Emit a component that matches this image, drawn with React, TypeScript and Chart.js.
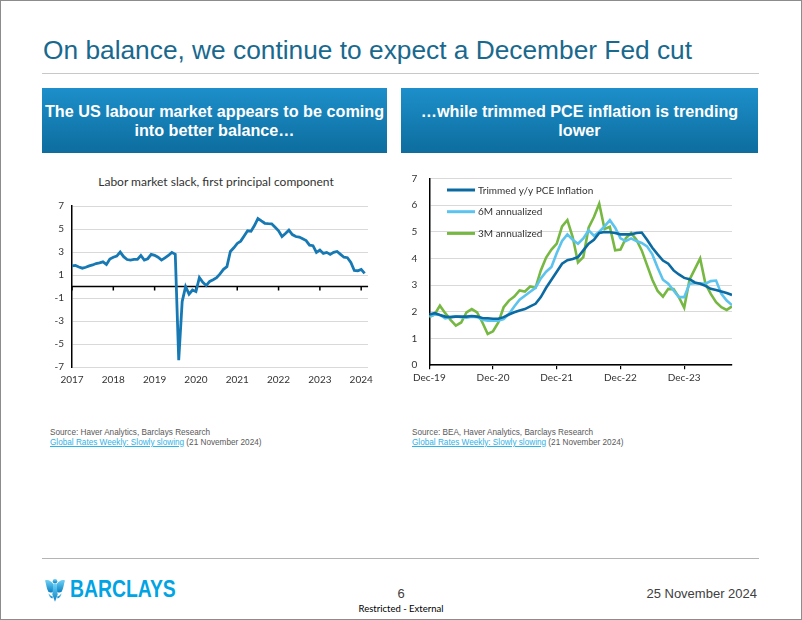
import React, { useEffect, useRef } from 'react';
import { Chart, registerables } from 'chart.js';

Chart.register(...registerables);

// ---------- Data ----------
const SLACK_TITLE = 'Labor market slack, first principal component';
const SLACK_YEARS = ['2017', '2018', '2019', '2020', '2021', '2022', '2023', '2024'];
const SLACK_VALUES = [
  1.79, 1.84, 1.7, 1.6, 1.68, 1.8, 1.88, 2.0, 2.06, 2.15,
  1.93, 2.4, 2.55, 2.65, 3.0, 2.6, 2.35, 2.3, 2.36, 2.36,
  2.7, 2.3, 2.42, 2.8, 2.72, 2.55, 2.3, 2.5, 2.7, 2.97,
  2.8, -6.4, -1.3, 0.0, -0.66, -0.3, -0.43, 0.78, 0.37, 0.1,
  0.45, 0.6, 0.78, 1.1, 1.5, 1.73, 3.05, 3.37, 3.75, 3.95,
  4.4, 4.85, 4.81, 5.3, 5.91, 5.7, 5.5, 5.47, 5.45, 5.15,
  4.85, 4.35, 4.61, 4.9, 4.52, 4.35, 4.3, 4.15, 4.0, 3.6,
  3.55, 2.97, 3.17, 2.88, 2.97, 2.8, 2.97, 3.05, 2.8, 2.55,
  2.51, 2.1, 1.4, 1.38, 1.5, 1.15,
];

const PCE_TICK_LABELS = ['Dec-19', 'Dec-20', 'Dec-21', 'Dec-22', 'Dec-23'];
const PCE_SERIES_NAMES = ['Trimmed y/y PCE Inflation', '6M annualized', '3M annualized'];
const TRIMMED_YY = [
  1.9, 1.95, 1.88, 1.82, 1.8, 1.82, 1.82, 1.82, 1.84, 1.82,
  1.77, 1.76, 1.74, 1.74, 1.8, 1.9, 1.98, 2.05, 2.1, 2.2,
  2.3, 2.55, 2.9, 3.2, 3.5, 3.8, 3.93, 3.98, 4.05, 4.3,
  4.55, 4.7, 4.95, 4.99, 4.98, 4.95, 4.9, 4.9, 4.9, 4.95,
  4.97, 4.7, 4.4, 4.15, 3.92, 3.8, 3.55, 3.4, 3.27, 3.22,
  3.1, 3.05, 2.97, 2.86, 2.82, 2.76, 2.7, 2.63,
];
const ANNUALIZED_6M = [
  1.82, 1.9, 1.88, 1.75, 1.8, 1.83, 1.8, 1.78, 1.82, 1.8,
  1.7, 1.67, 1.67, 1.67, 1.73, 1.92, 2.2, 2.45, 2.6, 2.75,
  2.9, 3.25, 3.5, 3.68, 4.2, 4.65, 4.9, 4.7, 4.55, 4.75,
  5.05, 4.85, 5.0, 5.2, 5.43, 5.15, 4.75, 4.65, 4.75, 4.65,
  4.58, 4.45, 4.15, 3.65, 3.2, 3.05, 2.8, 2.55, 2.55, 3.05,
  3.07, 3.07, 3.05, 3.15, 3.17, 2.67, 2.42, 2.25,
];
const ANNUALIZED_3M = [
  1.8, 1.9, 2.23, 1.95, 1.7, 1.48, 1.6, 1.98, 2.1, 1.98,
  1.6, 1.17, 1.27, 1.6, 2.17, 2.42, 2.57, 2.8, 2.76, 2.95,
  2.9, 3.55, 4.03, 4.33, 4.55, 5.2, 5.43, 4.8, 3.85, 4.05,
  5.15, 5.55, 6.05, 5.1, 5.18, 4.3, 4.33, 4.75, 4.95, 4.7,
  4.3, 3.75, 3.2, 2.78, 2.57, 2.86, 2.85, 2.55, 2.15, 3.2,
  3.6, 4.0, 3.05, 2.67, 2.36, 2.17, 2.07, 2.2,
];

const MONTHS_PER_TICK = 12;

// ---------- Styles ----------
const CHART_FONT = 'Lato, "Open Sans", sans-serif';
const SLIDE_FONT = '"Liberation Sans", Arial, sans-serif';
const TEXT_COLOR = '#333333';
const GRID_COLOR = '#d9d9d9';

const toPoints = (arr: number[]) => arr.map((v, i) => ({ x: i, y: v }));

// fixed-width y axis with no automatic label-overflow padding
const fixYAxis = (width: number) => (s: any) => {
  s.width = width;
  s.paddingTop = 0;
  s.paddingBottom = 0;
};

// zero line with year tick marks (left chart)
const zeroAxisPlugin = {
  id: 'zeroAxis',
  beforeDatasetsDraw(chart: any) {
    const xs = chart.scales.x;
    const ys = chart.scales.y;
    const ctx = chart.ctx;
    const y0 = ys.getPixelForValue(0);
    ctx.save();
    ctx.strokeStyle = '#000';
    ctx.lineWidth = 1.5;
    ctx.beginPath();
    ctx.moveTo(chart.chartArea.left, y0);
    ctx.lineTo(chart.chartArea.right, y0);
    xs.ticks.forEach((t: any) => {
      const px = xs.getPixelForValue(t.value);
      ctx.moveTo(px, y0);
      ctx.lineTo(px, y0 + 4);
    });
    ctx.stroke();
    ctx.restore();
  },
};

// legend drawn inside the plot area (right chart)
const insideLegendPlugin = {
  id: 'insideLegend',
  afterDatasetsDraw(chart: any, _args: any, opts: any) {
    const { ctx, chartArea } = chart;
    ctx.save();
    ctx.font = opts.font;
    ctx.textBaseline = 'middle';
    ctx.textAlign = 'left';
    chart.data.datasets.forEach((ds: any, i: number) => {
      const y = chartArea.top + opts.offsetY + i * opts.rowGap;
      const x0 = chartArea.left + opts.offsetX;
      ctx.strokeStyle = ds.borderColor;
      ctx.lineWidth = opts.lineWidth;
      ctx.beginPath();
      ctx.moveTo(x0, y);
      ctx.lineTo(x0 + opts.sampleWidth, y);
      ctx.stroke();
      ctx.fillStyle = opts.color;
      ctx.fillText(ds.label, x0 + opts.sampleWidth + opts.gap, y + 0.5);
    });
    ctx.restore();
  },
};

function Eagle() {
  return (
    <svg width="20" height="25" viewBox="0 0 30 37" style={{ position: 'absolute', left: 44, top: 576 }}>
      <defs>
        <linearGradient id="eg" x1="0" y1="0" x2="0" y2="1">
          <stop offset="0" stopColor="#6fd3f6" />
          <stop offset="1" stopColor="#0a7fc2" />
        </linearGradient>
      </defs>
      <path d="M13 11 C9 5 4 3 0 5 C2 10 2 17 5 22 C8 24 11 23 13 21 Z" fill="url(#eg)" />
      <path d="M17 11 C21 5 26 3 30 5 C28 10 28 17 25 22 C22 24 19 23 17 21 Z" fill="url(#eg)" />
      <circle cx="15" cy="6" r="3.4" fill="url(#eg)" />
      <path d="M12.5 10 L17.5 10 L19 26 L15 37 L11 26 Z" fill="url(#eg)" />
      <path d="M5 24 C8 27 10 29 12 29 L11 32 C8 31 6 28 5 24 Z" fill="url(#eg)" />
      <path d="M25 24 C22 27 20 29 18 29 L19 32 C22 31 24 28 25 24 Z" fill="url(#eg)" />
    </svg>
  );
}

export default function App() {
  const leftRef = useRef<HTMLCanvasElement>(null);
  const rightRef = useRef<HTMLCanvasElement>(null);

  useEffect(() => {
    const tickFont = { family: CHART_FONT, size: 10 };

    const left = new Chart(leftRef.current as HTMLCanvasElement, {
      type: 'line',
      data: {
        datasets: [
          {
            label: 'Labor market slack',
            data: toPoints(SLACK_VALUES),
            borderColor: '#1779b3',
            backgroundColor: '#1779b3',
            borderWidth: 2.8,
            pointRadius: 0,
            tension: 0,
          },
        ],
      },
      options: {
        responsive: false,
        animation: false,
        layout: { padding: { left: 0, right: 9, top: 41, bottom: 4.8 } },
        plugins: {
          legend: { display: false },
          tooltip: { enabled: false },
        },
        scales: {
          x: {
            type: 'linear',
            min: 0,
            max: 86,
            grid: { display: false, drawTicks: false },
            border: { display: false },
            ticks: {
              stepSize: MONTHS_PER_TICK,
              includeBounds: false,
              autoSkip: false,
              maxRotation: 0,
              padding: 7,
              color: TEXT_COLOR,
              font: tickFont,
              callback: (v: any) => SLACK_YEARS[Math.round(Number(v) / MONTHS_PER_TICK)] ?? '',
            },
          },
          y: {
            min: -7,
            max: 7,
            ticks: { stepSize: 2, padding: 8, color: TEXT_COLOR, font: tickFont },
            grid: { color: GRID_COLOR, drawTicks: false, lineWidth: 1 },
            border: { display: true, color: '#000', width: 1.5 },
            afterFit: fixYAxis(32),
          },
        },
      } as any,
      plugins: [zeroAxisPlugin],
    });

    const colors = ['#0b6aa2', '#5cc3ee', '#76b842'];
    const series = [TRIMMED_YY, ANNUALIZED_6M, ANNUALIZED_3M];
    const right = new Chart(rightRef.current as HTMLCanvasElement, {
      type: 'line',
      data: {
        datasets: series.map((s, i) => ({
          label: PCE_SERIES_NAMES[i],
          data: toPoints(s),
          borderColor: colors[i],
          backgroundColor: colors[i],
          borderWidth: 2.6,
          pointRadius: 0,
          tension: 0,
        })),
      },
      options: {
        responsive: false,
        animation: false,
        layout: { padding: { left: 0, right: 8, top: 13.3, bottom: 1.8 } },
        plugins: {
          legend: { display: false },
          tooltip: { enabled: false },
          insideLegend: {
            offsetX: 17.7,
            offsetY: 11.7,
            rowGap: 21.7,
            sampleWidth: 28,
            gap: 3,
            lineWidth: 3,
            color: TEXT_COLOR,
            font: `10px ${CHART_FONT}`,
          },
        },
        scales: {
          x: {
            type: 'linear',
            min: 0,
            max: 57,
            grid: { display: true, drawOnChartArea: false, drawTicks: true, tickLength: 4, color: '#000', lineWidth: 1.2 },
            border: { display: true, color: '#000', width: 1.5 },
            ticks: {
              stepSize: MONTHS_PER_TICK,
              includeBounds: false,
              autoSkip: false,
              maxRotation: 0,
              padding: 3,
              color: TEXT_COLOR,
              font: tickFont,
              callback: (v: any) => PCE_TICK_LABELS[Math.round(Number(v) / MONTHS_PER_TICK)] ?? '',
            },
          },
          y: {
            min: 0,
            max: 7,
            ticks: { stepSize: 1, padding: 12, color: TEXT_COLOR, font: tickFont },
            grid: { color: GRID_COLOR, drawTicks: false, lineWidth: 1 },
            border: { display: true, color: '#000', width: 1.5 },
            afterFit: fixYAxis(34.3),
          },
        },
      } as any,
      plugins: [insideLegendPlugin],
    });

    return () => {
      left.destroy();
      right.destroy();
    };
  }, []);

  const boxStyle: React.CSSProperties = {
    position: 'absolute',
    top: 87,
    height: 65,
    background: 'linear-gradient(#1d8fca, #0d6d9e)',
    color: '#fff',
    fontWeight: 'bold',
    fontSize: 16.2,
    lineHeight: '19px',
    display: 'flex',
    alignItems: 'center',
    justifyContent: 'center',
    textAlign: 'center',
    whiteSpace: 'nowrap',
  };
  const srcStyle: React.CSSProperties = {
    position: 'absolute',
    top: 427.3,
    fontSize: 8.2,
    lineHeight: '9.3px',
    color: '#595959',
    whiteSpace: 'nowrap',
  };
  const linkStyle: React.CSSProperties = { color: '#2fb2e8', textDecoration: 'underline' };

  return (
    <div
      style={{
        position: 'fixed',
        left: 0,
        top: 0,
        width: 802,
        height: 620,
        boxSizing: 'border-box',
        border: '1px solid #8c8c8c',
        background: '#fff',
        fontFamily: SLIDE_FONT,
        overflow: 'hidden',
      }}
    >
      <div style={{ position: 'absolute', left: 42, top: 34, fontSize: 26.3, lineHeight: '30px', color: '#19698e', whiteSpace: 'nowrap' }}>
        On balance, we continue to expect a December Fed cut
      </div>
      <div style={{ position: 'absolute', left: 41, top: 72, width: 717, height: 1, background: '#c8c8c8' }} />

      <div style={{ ...boxStyle, left: 41, width: 345 }}>
        <div>
          The US labour market appears to be coming
          <br />
          into better balance{'\u2026'}
        </div>
      </div>
      <div style={{ ...boxStyle, left: 400, width: 357 }}>
        <div>
          {'\u2026'}while trimmed PCE inflation is trending
          <br />
          lower
        </div>
      </div>

      <div
        style={{
          position: 'absolute',
          left: 15,
          width: 400,
          top: 173.7,
          textAlign: 'center',
          fontFamily: CHART_FONT,
          fontSize: 12,
          lineHeight: '14px',
          color: TEXT_COLOR,
          whiteSpace: 'nowrap',
        }}
      >
        {SLACK_TITLE}
      </div>
      <canvas ref={leftRef} width={340} height={233} style={{ position: 'absolute', left: 39, top: 164 }} />
      <canvas ref={rightRef} width={345} height={224} style={{ position: 'absolute', left: 394, top: 164 }} />

      <div style={{ ...srcStyle, left: 49 }}>
        Source: Haver Analytics, Barclays Research
        <br />
        <span style={linkStyle}>Global Rates Weekly: Slowly slowing</span> (21 November 2024)
      </div>
      <div style={{ ...srcStyle, left: 411 }}>
        Source: BEA, Haver Analytics, Barclays Research
        <br />
        <span style={linkStyle}>Global Rates Weekly: Slowly slowing</span> (21 November 2024)
      </div>

      <div style={{ position: 'absolute', left: 41, top: 557, width: 717, height: 1, background: '#b4b4b4' }} />

      <Eagle />
      <div
        style={{
          position: 'absolute',
          left: 69,
          top: 575.6,
          fontSize: 24.5,
          lineHeight: '24.5px',
          fontWeight: 'bold',
          color: '#00a3e3',
          transform: 'scaleX(0.79)',
          transformOrigin: 'left center',
          whiteSpace: 'nowrap',
        }}
      >
        BARCLAYS
      </div>

      <div style={{ position: 'absolute', left: 380, width: 40, top: 585, textAlign: 'center', fontSize: 13, lineHeight: '16px', color: '#404040' }}>
        6
      </div>
      <div
        style={{
          position: 'absolute',
          left: 340,
          width: 120,
          top: 602,
          textAlign: 'center',
          fontSize: 9.5,
          lineHeight: '12px',
          color: '#000',
          fontFamily: CHART_FONT,
        }}
      >
        Restricted - External
      </div>
      <div style={{ position: 'absolute', right: 44, top: 585, fontSize: 13, lineHeight: '16px', color: '#404040', whiteSpace: 'nowrap' }}>
        25 November 2024
      </div>
    </div>
  );
}
